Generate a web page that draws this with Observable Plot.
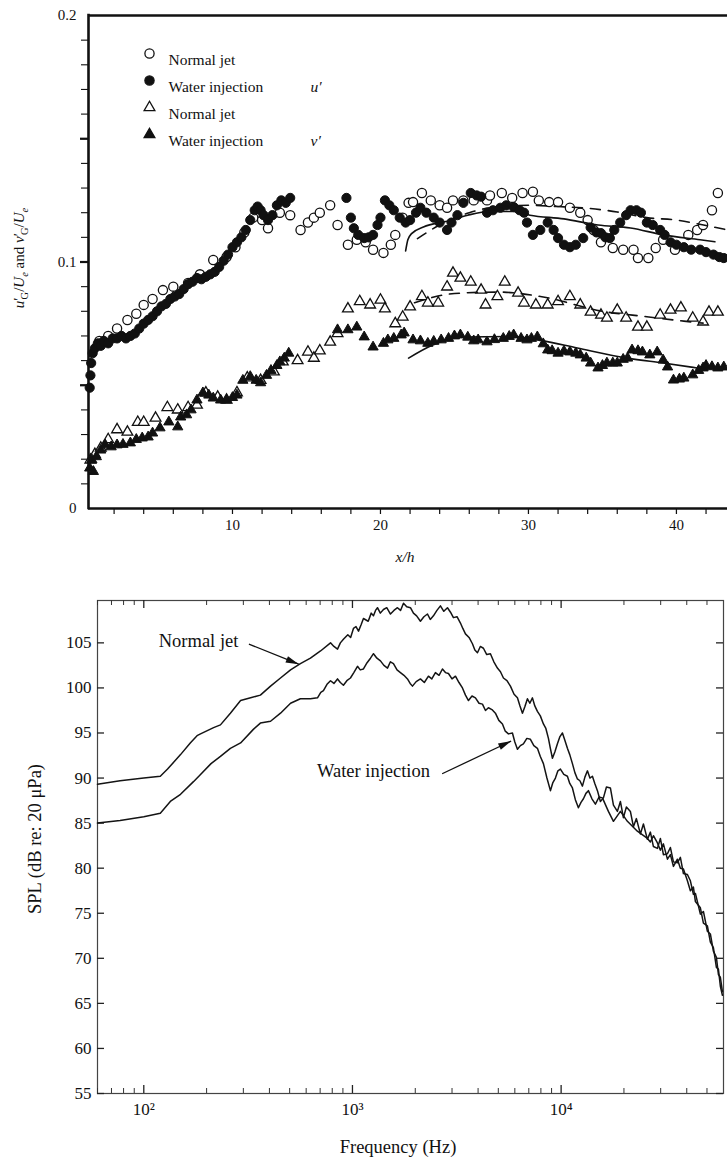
<!DOCTYPE html>
<html><head><meta charset="utf-8">
<script src="https://cdn.jsdelivr.net/npm/d3@7"></script>
<script src="https://cdn.jsdelivr.net/npm/@observablehq/plot@0.6"></script>
<style>
body{margin:0;background:#fff;}
#wrap{width:727px;height:1158px;overflow:hidden;background:#fff;}
svg{display:block;}
</style></head><body><div id="wrap"></div>
<script>
// ---------- Top panel data: x/h vs turbulence intensity ----------
const uWater = [[0.35,0.049],[0.4,0.054],[0.45,0.059],[0.55,0.063],[0.7,0.065],[0.9,0.067],[1.1,0.066],[1.3,0.068],[1.6,0.067],[1.9,0.069],[2.2,0.069],[2.5,0.070],[2.8,0.069],[3.1,0.070],[3.4,0.071],[3.7,0.073],[4.0,0.075],[4.3,0.0765],[4.6,0.078],[4.9,0.080],[5.2,0.082],[5.5,0.083],[5.8,0.085],[6.1,0.086],[6.4,0.087],[6.7,0.089],[7.0,0.091],[7.3,0.092],[7.6,0.0935],[7.9,0.093],[8.2,0.094],[8.5,0.095],[8.8,0.096],[9.1,0.098],[9.4,0.1005],[9.7,0.103],[10.0,0.106],[10.3,0.108],[10.6,0.110],[10.9,0.113],[11.2,0.117],[11.5,0.121],[11.7,0.1225],[11.9,0.121],[12.1,0.119],[12.4,0.117],[12.7,0.119],[13.0,0.123],[13.3,0.125],[13.6,0.124],[13.9,0.126],
[17.7,0.126],[18.0,0.118],[18.2,0.1137],[18.5,0.111],[18.9,0.1097],[19.2,0.110],[19.5,0.111],[19.8,0.115],[20.0,0.118],[20.3,0.125],[20.6,0.123],[20.9,0.121],[21.3,0.118],[21.7,0.116],[22.0,0.117],[22.4,0.120],[22.7,0.122],[23.1,0.120],[23.6,0.118],[24.0,0.116],[24.5,0.113],[24.8,0.116],[25.2,0.119],[25.6,0.124],[26.1,0.128],[26.5,0.127],[26.8,0.1265],[27.2,0.120],[27.6,0.121],[28.1,0.122],[28.5,0.123],[29.0,0.1223],[29.4,0.121],[29.7,0.120],[29.9,0.116],[30.3,0.111],[30.8,0.113],[31.3,0.116],[31.7,0.113],[32.0,0.1097],[32.4,0.107],[32.8,0.106],[33.2,0.107],[33.7,0.1097],[34.2,0.114],[34.6,0.112],[34.9,0.1117],[35.2,0.110],[35.5,0.1097],[35.8,0.113],[36.2,0.116],[36.6,0.119],[36.9,0.121],[37.3,0.121],[37.6,0.120],[38.0,0.116],[38.4,0.115],[38.9,0.113],[39.2,0.111],[39.6,0.108],[40.0,0.107],[40.5,0.106],[41.0,0.105],[41.6,0.105],[42.0,0.104],[42.5,0.103],[42.9,0.102],[43.2,0.1016]];

const uNormal = [[1.0,0.068],[1.6,0.070],[2.2,0.073],[2.9,0.0765],[3.5,0.079],[4.0,0.0826],[4.6,0.085],[5.3,0.0886],[6.0,0.090],[7.0,0.0915],[7.8,0.095],[8.7,0.1008],[9.6,0.102],[10.2,0.106],[10.8,0.112],[11.4,0.118],[12.0,0.117],[12.4,0.1137],[13.2,0.120],[13.9,0.119],[14.6,0.113],[15.1,0.116],[15.5,0.118],[15.9,0.120],[16.6,0.123],[17.1,0.115],[17.8,0.107],[18.4,0.109],[19.0,0.108],[19.5,0.105],[20.2,0.1037],[20.7,0.107],[21.0,0.111],[21.5,0.118],[21.9,0.124],[22.2,0.1243],[22.8,0.128],[23.4,0.125],[24.0,0.123],[24.5,0.122],[24.9,0.125],[25.6,0.125],[26.3,0.125],[27.2,0.125],[27.4,0.127],[28.2,0.128],[28.9,0.126],[29.6,0.128],[30.3,0.1285],[30.7,0.125],[31.4,0.1243],[32.0,0.1243],[32.8,0.122],[33.5,0.120],[34.0,0.117],[34.4,0.113],[34.9,0.108],[35.7,0.1057],[36.4,0.105],[37.1,0.105],[37.4,0.1016],[38.1,0.1016],[38.6,0.1057],[39.1,0.109],[39.9,0.105],[40.8,0.111],[41.4,0.113],[41.8,0.115],[42.4,0.121],[42.8,0.128]];

const vNormal = [[0.4,0.0197],[0.7,0.022],[1.1,0.0245],[1.6,0.028],[2.2,0.032],[2.9,0.031],[3.6,0.035],[4.0,0.035],[4.8,0.0367],[5.6,0.041],[6.3,0.040],[7.0,0.041],[7.6,0.042],[8.2,0.0469],[9.0,0.0452],[9.6,0.044],[10.3,0.047],[11.0,0.053],[11.9,0.052],[12.8,0.0555],[13.4,0.0595],[14.4,0.060],[15.1,0.0635],[15.5,0.061],[15.9,0.064],[16.6,0.0675],[17.1,0.071],[17.8,0.081],[18.6,0.084],[19.3,0.0826],[20.0,0.0846],[20.3,0.081],[21.0,0.075],[21.5,0.0777],[22.0,0.0818],[22.8,0.086],[23.2,0.0834],[23.9,0.0834],[24.5,0.0899],[24.9,0.0955],[25.4,0.0935],[26.1,0.0919],[26.8,0.0886],[27.1,0.0826],[27.9,0.086],[28.4,0.0919],[29.3,0.0874],[29.7,0.0834],[30.5,0.0826],[31.3,0.0826],[32.0,0.084],[32.8,0.086],[33.5,0.0826],[34.2,0.0797],[34.9,0.0785],[35.3,0.0773],[36.0,0.0805],[36.6,0.0773],[37.4,0.0736],[38.0,0.0736],[38.9,0.0785],[39.6,0.0805],[40.3,0.0814],[41.1,0.0773],[41.8,0.0757],[42.2,0.0797],[42.8,0.0797]];

const vWater = [[0.35,0.0164],[0.5,0.0197],[0.6,0.0150],[0.8,0.021],[1.1,0.0237],[1.4,0.0258],[1.8,0.025],[2.2,0.0258],[2.6,0.026],[3.1,0.0266],[3.5,0.028],[3.9,0.0286],[4.3,0.029],[4.6,0.0306],[5.1,0.0327],[5.7,0.0351],[6.3,0.0331],[6.5,0.0371],[6.9,0.038],[7.2,0.040],[7.6,0.044],[8.0,0.0469],[8.4,0.046],[8.7,0.0448],[9.2,0.044],[9.6,0.044],[10.0,0.045],[10.3,0.046],[10.7,0.052],[11.2,0.0535],[11.6,0.052],[11.9,0.051],[12.3,0.054],[12.6,0.056],[13.0,0.058],[13.2,0.0595],[13.5,0.061],[13.8,0.063],
[17.1,0.0725],[17.8,0.0725],[18.4,0.0736],[18.9,0.0696],[19.5,0.0655],[20.2,0.067],[20.5,0.0684],[20.9,0.069],[21.4,0.0704],[21.6,0.0712],[22.2,0.0684],[22.7,0.068],[23.2,0.067],[23.6,0.0678],[24.1,0.0684],[24.6,0.069],[25.0,0.070],[25.4,0.0704],[25.9,0.0695],[26.3,0.068],[26.6,0.0684],[27.2,0.0676],[27.7,0.0685],[28.3,0.069],[28.7,0.0698],[29.0,0.0704],[29.5,0.069],[29.9,0.0684],[30.2,0.069],[30.6,0.0696],[31.0,0.0668],[31.3,0.0643],[31.6,0.064],[32.0,0.063],[32.4,0.0638],[32.8,0.0635],[33.2,0.063],[33.5,0.0623],[33.9,0.061],[34.2,0.059],[34.7,0.057],[35.0,0.058],[35.3,0.059],[35.7,0.059],[36.0,0.059],[36.4,0.0605],[36.7,0.061],[37.0,0.0643],[37.4,0.064],[37.7,0.0635],[38.2,0.0623],[38.7,0.0635],[39.1,0.0602],[39.4,0.0574],[39.8,0.0521],[40.2,0.0525],[40.5,0.0529],[41.1,0.0542],[41.5,0.056],[41.8,0.057],[42.0,0.058],[42.4,0.0575],[42.8,0.057],[43.2,0.0574]];

const uSolid = [[21.7,0.1045],[21.85,0.109],[22.1,0.1115],[22.9,0.1142],[24.5,0.1165],[25.9,0.119],[27.4,0.1205],[29,0.1205],[30.1,0.119],[32.4,0.1175],[34.7,0.115],[36.9,0.1138],[39.1,0.111],[41.6,0.109],[42.6,0.1082]];
const uDashed = [[22.5,0.1095],[24,0.115],[26,0.120],[28,0.1225],[30,0.123],[32,0.1225],[34,0.1218],[36,0.1203],[38,0.118],[40,0.117],[42,0.1148],[43.3,0.1132]];
const vDashed = [[22.3,0.0835],[25,0.0872],[28,0.0878],[31,0.0858],[35,0.080],[38,0.0778],[40.5,0.076],[41.8,0.0752]];
const vSolid = [[21.9,0.061],[23.5,0.0662],[25.6,0.0696],[29,0.0698],[31,0.068],[33.3,0.0651],[36.7,0.061],[39.1,0.059],[41.4,0.057]];

const legendLabels = ["Normal jet", "Water injection", "Normal jet", "Water injection"];
const legendSymbols = ["circle", "circle", "triangle", "triangle"];
const legendFilled = [false, true, false, true];
const componentLabels = ["u\u2032", "v\u2032"];
const xTicksTop = [10, 20, 30, 40];
const yTicksTop = [0, 0.1, 0.2];

// ---------- Bottom panel data: SPL spectra ----------
const normalJet = [[60,89.3],[77,89.7],[100,90.0],[120,90.2],[130,91.0],[150,92.6],[167,93.9],[180,94.7],[187,94.9],[216,95.6],[233,95.9],[260,97.2],[291,98.6],[325,98.9],[362,99.2],[405,100.2],[452,101.1],[505,102.0],[563,102.7],[629,103.3],[703,104.1],[785,105.0],[815,104.6],[848,104.3],[875,105.0],[905,105.4],[950,105.9],[980,105.6],[1011,106.6],[1040,106.8],[1069,106.3],[1100,107.0],[1129,107.7],[1190,107.4],[1230,108.3],[1261,108.0],[1290,108.6],[1318,108.9],[1360,108.3],[1408,108.7],[1460,108.9],[1521,108.2],[1580,108.6],[1643,108.9],[1700,108.6],[1756,109.4],[1820,109.0],[1896,108.9],[1960,108.3],[2030,108.0],[2117,107.4],[2200,107.9],[2288,108.2],[2360,107.6],[2444,108.0],[2540,108.6],[2640,109.1],[2740,108.5],[2853,108.9],[2950,108.4],[3047,107.8],[3170,107.9],[3292,107.2],[3380,106.6],[3479,106.0],[3620,105.6],[3758,104.9],[3860,104.2],[3972,103.9],[4100,104.6],[4243,104.4],[4400,103.7],[4583,103.8],[4760,102.9],[4951,102.2],[5120,101.8],[5291,101.1],[5500,100.8],[5715,100.2],[5950,99.3],[6175,98.9],[6350,98.0],[6527,97.2],[6700,97.9],[6896,98.8],[7080,98.3],[7286,98.9],[7480,98.0],[7698,97.4],[7950,96.9],[8225,96.0],[8450,95.5],[8693,94.4],[8880,93.3],[9086,92.2],[9330,92.9],[9600,93.8],[9870,94.6],[10146,95.0],[10420,94.2],[10718,93.3],[11000,92.6],[11328,91.6],[11640,90.6],[11968,89.9],[12300,89.7],[12650,89.1],[13000,90.1],[13368,90.8],[13740,90.0],[14125,90.2],[14500,89.4],[14928,88.6],[15424,87.4],[15948,87.8],[16489,89.0],[17223,88.9],[17813,87.0],[18606,86.3],[19232,87.4],[19881,85.6],[20551,86.8],[21475,86.3],[22204,84.6],[22949,85.5],[23980,83.8],[24797,84.9],[25910,83.2],[26777,84.0],[27691,82.4],[28938,82.2],[29900,83.3],[30913,81.5],[32318,81.6],[33388,82.3],[34525,80.7],[36086,80.6],[37282,81.2],[38556,79.4],[40290,79.3],[41631,78.6],[43047,77.1],[44010,77.2],[46487,74.9],[48072,75.2],[50230,73.0],[51909,72.7],[53663,70.8],[55484,70.1],[56722,68.2],[57964,67.9],[59280,66.3]];

const waterInjection = [[60,85.0],[77,85.3],[100,85.7],[120,86.1],[134,87.4],[150,88.2],[173,89.6],[187,90.4],[210,91.6],[233,92.4],[260,93.3],[291,93.9],[335,95.4],[362,96.1],[405,96.3],[452,97.2],[505,98.3],[563,98.8],[629,98.8],[680,98.9],[705,99.5],[726,99.7],[755,100.4],[785,100.8],[815,100.5],[848,101.0],[875,100.6],[905,100.3],[940,100.8],[978,101.1],[1015,101.7],[1057,102.4],[1090,102.0],[1129,102.1],[1175,102.8],[1220,103.3],[1261,103.8],[1310,103.3],[1362,103.0],[1415,102.5],[1472,102.2],[1520,102.9],[1572,102.7],[1635,102.0],[1698,101.7],[1765,101.4],[1835,101.0],[1890,100.5],[1939,100.2],[2020,100.7],[2117,101.0],[2210,100.6],[2313,101.3],[2400,101.0],[2498,101.7],[2600,101.4],[2699,102.1],[2790,101.7],[2884,101.6],[3000,101.0],[3116,101.3],[3240,100.6],[3366,100.0],[3480,99.2],[3597,98.6],[3740,99.1],[3885,98.9],[4040,98.3],[4197,98.2],[4340,97.5],[4482,97.8],[4660,97.6],[4843,97.2],[5030,96.4],[5233,96.0],[5400,95.2],[5591,94.9],[5843,95.0],[6000,94.0],[6175,93.2],[6380,93.6],[6596,93.8],[6850,94.4],[7126,94.3],[7400,93.6],[7698,93.3],[7950,92.4],[8225,91.6],[8550,90.0],[8885,88.6],[9130,89.5],[9390,90.0],[9650,90.8],[9921,91.0],[10300,90.4],[10718,90.2],[11000,89.4],[11328,88.9],[11700,87.6],[12100,86.7],[12450,87.3],[12792,87.7],[13150,88.3],[13510,88.6],[14050,87.7],[14598,87.1],[15200,87.9],[15773,87.8],[16849,86.3],[17813,85.2],[19232,86.3],[20776,85.2],[23195,84.1],[25910,83.3],[26777,82.9],[27691,83.6],[28938,82.8],[29900,82.0],[30913,82.7],[32318,81.0],[33388,81.5],[34525,80.2],[36086,81.0],[37282,80.0],[38556,79.9],[40290,78.6],[41631,77.5],[43047,77.9],[44010,76.3],[46487,75.6],[48072,73.9],[50230,73.6],[51909,71.8],[53663,71.2],[55484,69.0],[56722,68.8],[57964,66.9],[59280,65.9]];

const annotations = [
  {label: "Normal jet", f: 183, db: 105.2, f1: 319, db1: 104.86, f2: 553, db2: 102.63},
  {label: "Water injection", f: 1261, db: 90.8, f1: 2690, db1: 90.48, f2: 5760, db2: 94.1}
];
const freqMajor = [100, 1000, 10000];
const freqMinor = [60,70,80,90,200,300,400,500,600,700,800,900,2000,3000,4000,5000,6000,7000,8000,9000,20000,30000,40000,50000];
const splTicks = [55,60,65,70,75,80,85,90,95,100,105];

const SERIF = "Liberation Serif, Times New Roman, serif";
const INK = "#111";

// ---------- Top panel ----------
const legendMarks = legendLabels.flatMap((lab, i) => [
  Plot.dot([lab], {frameAnchor: "top-left", dx: 61, dy: 38 + 27 * i, symbol: legendSymbols[i],
    r: legendSymbols[i] === "circle" ? 4.6 : 4.0, fill: legendFilled[i] ? INK : "white", stroke: INK, strokeWidth: 1.3}),
  Plot.text([lab], {frameAnchor: "top-left", dx: 80, dy: 38 + 27 * i, text: d => d, textAnchor: "start", fontSize: 15.5, fill: INK})
]);
const compMarks = componentLabels.map((c, j) =>
  Plot.text([c], {frameAnchor: "top-left", dx: 222, dy: 65 + 54 * j, text: d => d, textAnchor: "start", fontSize: 15.5, fontStyle: "italic", fill: INK}));

const topSvg = Plot.plot({
  width: 727, height: 580,
  marginTop: 15, marginBottom: 72, marginLeft: 88, marginRight: 0,
  style: {fontFamily: SERIF, fontSize: "15px", color: INK, background: "white", overflow: "visible"},
  x: {domain: [0.27, 43.45], label: null},
  y: {domain: [0, 0.2], label: null},
  marks: [
    Plot.axisX(d3.range(2, 43, 2), {tickSize: 6, tickFormat: () => "", strokeWidth: 1.2}),
    Plot.axisX(xTicksTop, {tickSize: 6, tickPadding: 5, tickFormat: d => String(d), fontSize: 15}),
    Plot.axisY(d3.range(1, 20).map(i => i / 100), {tickSize: 7, tickFormat: () => "", strokeWidth: 1.1}),
    Plot.axisY([0.05, 0.1, 0.15], {tickSize: 8, strokeWidth: 2.2, tickFormat: () => ""}),
    Plot.axisY(yTicksTop, {tickSize: 0, tickPadding: 12, fontSize: 15, tickFormat: d => d === 0 ? "0" : d.toFixed(1)}),
    Plot.dot(uNormal, {x: d => d[0], y: d => d[1], r: 4.6, fill: "white", stroke: INK, strokeWidth: 1.3}),
    Plot.dot(uWater, {x: d => d[0], y: d => d[1], r: 4.6, fill: INK, stroke: INK, strokeWidth: 1}),
    Plot.dot(vNormal, {x: d => d[0], y: d => d[1], r: 4.0, symbol: "triangle", fill: "white", stroke: INK, strokeWidth: 1.3}),
    Plot.dot(vWater, {x: d => d[0], y: d => d[1], r: 3.8, symbol: "triangle", fill: INK, stroke: INK, strokeWidth: 1}),
    Plot.line(uSolid, {x: d => d[0], y: d => d[1], stroke: INK, strokeWidth: 1.6, curve: "monotone-x"}),
    Plot.line(uDashed, {x: d => d[0], y: d => d[1], stroke: INK, strokeWidth: 1.6, strokeDasharray: "10,8", curve: "monotone-x"}),
    Plot.line(vDashed, {x: d => d[0], y: d => d[1], stroke: INK, strokeWidth: 1.6, strokeDasharray: "10,8", curve: "monotone-x"}),
    Plot.line(vSolid, {x: d => d[0], y: d => d[1], stroke: INK, strokeWidth: 1.6, curve: "monotone-x"}),
    Plot.ruleY([0], {stroke: INK, strokeWidth: 2.6}),
    Plot.ruleY([0.2], {stroke: INK, strokeWidth: 2.6}),
    Plot.ruleX([0.27], {stroke: INK, strokeWidth: 2.6, strokeLinecap: "square"}),
    ...legendMarks,
    ...compMarks
  ]
});

// y label with primes and subscripts, and x label
(function () {
  const t = d3.select(topSvg).append("text")
    .attr("transform", "translate(24,258) rotate(-90)")
    .attr("text-anchor", "middle").attr("font-family", SERIF).attr("font-size", 15).attr("fill", INK);
  const parts = [["u", "i", 0], ["\u2032", "n", 0], ["G", "n", 1], ["/", "n", 0], ["U", "i", 0], ["e", "i", 1],
                 [" and ", "n", 0], ["v", "i", 0], ["\u2032", "n", 0], ["G", "n", 1], ["/", "n", 0], ["U", "i", 0], ["e", "i", 1]];
  let sub = 0;
  for (const [s, st, sb] of parts) {
    const ts = t.append("tspan").text(s);
    if (st === "i") ts.attr("font-style", "italic");
    if (sb && !sub) { ts.attr("dy", 4).attr("font-size", 10.5); if (s === "G") ts.attr("dx", -2); sub = 1; }
    else if (sb && sub) { ts.attr("font-size", 10.5); }
    else if (!sb && sub) { ts.attr("dy", -4); sub = 0; }
  }
  d3.select(topSvg).append("text").attr("x", 405).attr("y", 562).attr("text-anchor", "middle")
    .attr("font-family", SERIF).attr("font-size", 15.5).attr("font-style", "italic").attr("fill", INK).text("x/h");
})();

// ---------- Bottom panel ----------
const sup = {"0": "\u2070", "1": "\u00b9", "2": "\u00b2", "3": "\u00b3", "4": "\u2074", "5": "\u2075"};
const W = 626, H = 493;
// pixel-space helpers (same domains/ranges as the plot) only to orient the arrowheads
const pxX = d3.scaleLog([60, 60000], [97, 723]);
const pxY = d3.scaleLinear([55, 109.7], [20 + H, 20]);
const headAngle = d => {
  const dx = pxX(d.f2) - pxX(d.f1), dy = pxY(d.db2) - pxY(d.db1);
  return Math.atan2(dx, -dy) * 180 / Math.PI;
};
const arrowHead = {draw(ctx) { ctx.moveTo(0, 0); ctx.lineTo(-3.4, 13); ctx.lineTo(3.4, 13); ctx.closePath(); }};

const botSvg = Plot.plot({
  width: 727, height: 578,
  marginTop: 20, marginBottom: 65, marginLeft: 97, marginRight: 4,
  style: {fontFamily: SERIF, fontSize: "17px", color: INK, background: "white", overflow: "visible"},
  x: {type: "log", domain: [60, 60000], label: null},
  y: {domain: [55, 109.7], label: null},
  marks: [
    Plot.frame({stroke: "#444", strokeWidth: 1.2}),
    Plot.tickX(freqMinor, {x: d => d, insetTop: H - 5, stroke: "#333"}),
    Plot.tickX(freqMinor, {x: d => d, insetBottom: H - 5, stroke: "#333"}),
    Plot.tickX(freqMajor, {x: d => d, insetTop: H - 8, stroke: "#222", strokeWidth: 1.3}),
    Plot.tickX(freqMajor, {x: d => d, insetBottom: H - 8, stroke: "#222", strokeWidth: 1.3}),
    Plot.tickY(splTicks, {y: d => d, insetRight: W - 7, stroke: "#222", strokeWidth: 1.3}),
    Plot.tickY(splTicks, {y: d => d, insetLeft: W - 7, stroke: "#222", strokeWidth: 1.3}),
    Plot.axisX(freqMajor, {tickSize: 0, tickPadding: 9, fontSize: 17, tickFormat: d => "10" + String(Math.round(Math.log10(d))).split("").map(c => sup[c]).join("")}),
    Plot.axisY(splTicks, {tickSize: 0, tickPadding: 6, fontSize: 17, tickFormat: d => String(d)}),
    Plot.line(waterInjection, {x: d => d[0], y: d => d[1], stroke: "#141414", strokeWidth: 1.5}),
    Plot.line(normalJet, {x: d => d[0], y: d => d[1], stroke: "#141414", strokeWidth: 1.5}),
    Plot.link(annotations, {x1: "f1", y1: "db1", x2: "f2", y2: "db2", stroke: INK, strokeWidth: 1.3}),
    Plot.dot(annotations, {x: "f2", y: "db2", symbol: arrowHead, rotate: headAngle, fill: INK, stroke: "none"}),
    Plot.text(annotations, {x: "f", y: "db", text: "label", fontSize: 18.5, fill: INK, textAnchor: "middle"})
  ]
});
(function () {
  const s = d3.select(botSvg);
  s.append("text").attr("x", 398).attr("y", 573).attr("text-anchor", "middle")
    .attr("font-family", SERIF).attr("font-size", 18.5).attr("fill", INK).text("Frequency (Hz)");
  s.append("text").attr("transform", "translate(41,259) rotate(-90)").attr("text-anchor", "middle")
    .attr("font-family", SERIF).attr("font-size", 18.5).attr("fill", INK).text("SPL (dB re: 20 \u03bcPa)");
})();

const wrap = document.getElementById("wrap");
wrap.appendChild(topSvg);
wrap.appendChild(botSvg);
</script></body></html>
